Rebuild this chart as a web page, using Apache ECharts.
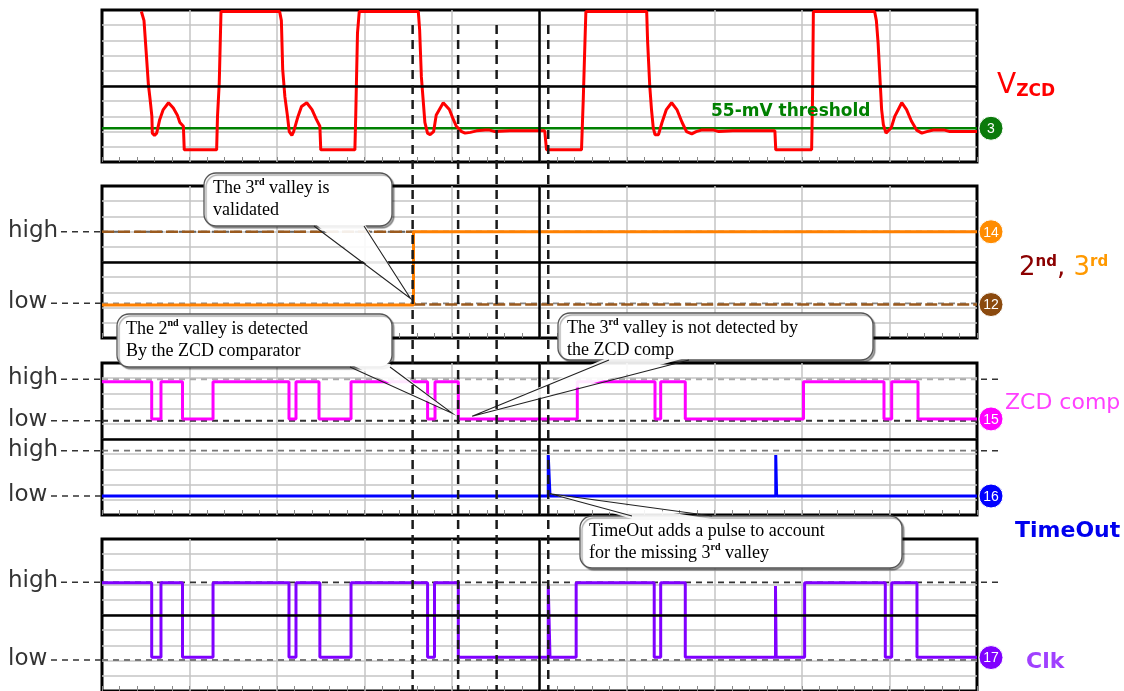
<!DOCTYPE html>
<html><head><meta charset="utf-8">
<script src="https://cdn.jsdelivr.net/npm/echarts@6.0.0/dist/echarts.min.js"></script>
<style>html,body{margin:0;padding:0;background:#fff}#c{width:1124px;height:691px}</style>
</head><body><div id="c"></div>
<script>
// ---------------- data (time in 1/10 division units, level in divisions) ----------------
const vzcdT = [4.5,4.8,5.1,5.3,5.5,5.7,5.75,6.0,6.25,6.6,7.0,7.6,8.15,8.6,8.9,9.3,9.4,13.1,13.2,13.4,13.6,
  20.3,20.5,20.65,20.9,21.2,21.4,21.7,21.9,22.4,22.8,23.4,24.0,24.5,24.9,25.0,28.9,29.0,29.2,29.4,
  36.15,36.3,36.5,36.7,36.9,37.2,37.5,37.9,38.2,39.0,39.7,40.15,40.5,41.1,41.5,42.1,42.8,43.8,44.3,44.9,46.6,50.6,50.8,
  54.8,55.0,55.2,55.3,62.25,62.35,62.6,62.8,63.0,63.2,63.6,64.0,64.5,65.1,65.7,66.3,66.8,67.4,67.9,68.5,69.9,70.5,72.1,74.8,76.9,77.0,
  81.1,81.2,81.3,88.3,88.5,88.7,88.9,89.1,89.3,89.6,89.8,90.2,90.6,91.4,91.95,92.5,93.1,93.7,94.25,95.0,96.3,96.9,100];
const vzcdV = [9.9,9.3,6.8,5.1,4.1,3.0,1.9,1.75,1.9,2.8,3.45,3.9,3.55,3.1,2.6,2.35,0.8,0.8,3.0,5.2,9.9,
  9.9,9.3,6.1,4.3,3.0,2.0,1.75,2.0,3.0,3.65,3.9,3.45,2.8,2.35,0.8,0.8,3.1,8.5,9.9,
  9.9,8.7,5.6,4.1,2.6,1.9,1.8,2.0,3.1,3.9,3.45,2.8,2.35,2.0,1.9,1.95,2.05,2.1,2.1,2.0,2.05,2.05,0.8,
  0.8,4.1,8.0,9.9,9.9,8.0,5.0,3.45,2.25,1.8,1.8,2.6,3.45,3.9,3.45,2.6,2.0,1.85,2.0,2.1,2.1,2.0,2.05,2.05,2.05,0.8,
  0.8,4.1,9.9,9.9,9.3,7.8,5.6,3.45,2.45,1.9,1.8,2.25,3.0,3.9,3.45,2.7,2.1,1.9,2.0,2.1,2.1,2.0,2.0];
const thresholdT = [0, 100];
const thresholdV = [2.22, 2.22];

const valleyT = [0, 35.6, 100];
const secondV = [6.99, 2.2, 2.2];
const thirdV  = [2.17, 6.99, 6.99];

const zcdT = [0,5.68,6.74,9.2,12.69,21.37,22.17,24.8,28.46,37.21,38.06,40.72,54.32,63.2,63.85,66.66,80.17,89.37,90.25,93.26,100];
const zcdV = [8.77,6.32,8.77,6.32,8.77,6.32,8.77,6.32,8.77,6.32,8.77,6.32,8.77,6.32,8.77,6.32,8.77,6.32,8.77,6.32,6.32];

const timeoutT = [0,51.0,51.2,77.0,77.1,100];
const timeoutV = [1.25,3.95,1.25,3.95,1.25,1.25];

const clkT = [0,5.68,6.74,9.2,12.69,21.37,22.17,24.9,28.46,37.21,38.0,40.72,51.0,51.2,54.19,63.11,63.85,66.66,76.97,77.05,80.3,89.52,90.25,93.14,100];
const clkV = [7.12,2.22,7.12,2.22,7.12,2.22,7.12,2.22,7.12,2.22,7.12,2.22,6.9,2.22,7.12,2.22,7.12,2.22,6.9,2.22,7.12,2.22,7.12,2.22,2.22];

const cursorT = [35.5, 40.7, 45.1, 51.0];

// reference levels: [grid, level, label]
const refGrid  = [1, 1, 2, 2, 2, 2, 3, 3];
const refLevel = [6.99, 2.28, 8.93, 6.2, 4.23, 1.25, 7.15, 2.04];
const refLabel = ['high','low','high','low','high','low','high','low'];

// channel markers
const chanGrid  = [0, 1, 1, 2, 2, 3];
const chanLevel = [2.22, 6.99, 2.2, 6.32, 1.25, 2.2];
const chanNum   = ['3','14','12','15','16','17'];

// ---------------- chart ----------------
const pairs = (t, v) => t.map((x, i) => [x, v[i]]);
const chart = echarts.init(document.getElementById('c'));
const gridTops = [10, 186, 363, 539];
const grids = gridTops.map(t => ({left:102, right:147, top:t, height:152, show:true,
  borderColor:'#000', borderWidth:3, backgroundColor:'transparent'}));
const xAxes = grids.map((g, i) => ({type:'value', gridIndex:i, min:0, max:100, interval:10,
  axisLine:{show:false}, axisLabel:{show:false},
  axisTick:{show:true, inside:true, length:5, lineStyle:{color:'#888', width:1}},
  minorTick:{show:true, splitNumber:5, length:5, lineStyle:{color:'#888', width:1}},
  splitLine:{show:true, showMinLine:false, showMaxLine:false, lineStyle:{color:'#c4c4c4', width:1.5}}}));
const yAxes = grids.map((g, i) => ({type:'value', gridIndex:i, min:0, max:10, interval:1,
  axisLine:{show:false}, axisLabel:{show:false}, axisTick:{show:false},
  splitLine:{show:true, showMinLine:false, showMaxLine:false, lineStyle:{color:'#c4c4c4', width:1.5}}}));
const centre = {silent:true, symbol:'none', label:{show:false}, animation:false,
  lineStyle:{color:'#000', type:'solid', width:2.5}, data:[{xAxis:50},{yAxis:5}]};
const base = {type:'line', symbol:'none', silent:true, animation:false};

const option = {
  animation:false,
  grid: grids, xAxis: xAxes, yAxis: yAxes,
  series: [
    Object.assign({}, base, {xAxisIndex:0, yAxisIndex:0, data:pairs(thresholdT, thresholdV),
      lineStyle:{color:'#008000', width:2.5}, markLine:centre}),
    Object.assign({}, base, {xAxisIndex:0, yAxisIndex:0, data:pairs(vzcdT, vzcdV),
      lineStyle:{color:'#ff0000', width:3}}),
    Object.assign({}, base, {xAxisIndex:1, yAxisIndex:1, step:'end', data:pairs(valleyT, secondV),
      lineStyle:{color:'#9a5a1e', width:2.5, type:[12,4]}, markLine:centre}),
    Object.assign({}, base, {xAxisIndex:1, yAxisIndex:1, step:'end', data:pairs(valleyT, thirdV),
      lineStyle:{color:'#ff8000', width:3}}),
    Object.assign({}, base, {xAxisIndex:2, yAxisIndex:2, step:'end', data:pairs(timeoutT, timeoutV),
      lineStyle:{color:'#0000ff', width:3}, markLine:centre}),
    Object.assign({}, base, {xAxisIndex:2, yAxisIndex:2, step:'end', data:pairs(zcdT, zcdV),
      lineStyle:{color:'#ff00ff', width:3}}),
    Object.assign({}, base, {xAxisIndex:3, yAxisIndex:3, step:'end', data:pairs(clkT, clkV),
      lineStyle:{color:'#8000ff', width:3}, markLine:centre})
  ]
};
chart.setOption(option);

// ---------------- annotations ----------------
const P = (g, x, y) => chart.convertToPixel({gridIndex:g}, [x, y]);
const G = [];
const leftX = P(0, 0, 0)[0], rightX = P(0, 100, 0)[0];
const sans = 'DejaVu Sans', serif = 'Liberation Serif';
const refInner = ['#666','#888','#aaa','#333','#777','#555','#333','#777'];
const refExt = [false,false,true,false,true,false,true,false];

refLevel.forEach((lv, i) => {
  const y = P(refGrid[i], 0, lv)[1];
  const startX = refLabel[i] === 'high' ? 61 : 51;
  G.push({type:'text', x:8, y:y-1, z:5, style:{text:refLabel[i], font:'23px "' + sans + '"', fill:'#333', verticalAlign:'middle'}});
  G.push({type:'line', z:1, shape:{x1:startX, y1:y, x2:leftX, y2:y}, style:{stroke:'#333', lineWidth:1.5, lineDash:[6,5]}});
  G.push({type:'line', z:1, shape:{x1:leftX, y1:y, x2:rightX, y2:y}, style:{stroke:refInner[i], lineWidth:1.8, lineDash:[6,5]}});
  if (refExt[i]) G.push({type:'line', z:1, shape:{x1:rightX + 4, y1:y, x2:rightX + 26, y2:y}, style:{stroke:'#333', lineWidth:1.5, lineDash:[6,5]}});
});

// cursor lines across all panels
cursorT.forEach(t => {
  const x = P(0, t, 0)[0];
  G.push({type:'line', z:110, shape:{x1:x, y1:25, x2:x, y2:690}, style:{stroke:'#1a1a1a', lineWidth:2.5, lineDash:[9,6]}});
});

// channel markers
const chanFill = ['#0b7a0b','#ff8c00','#8b4a0e','#ff00ff','#0000ff','#8000ff'];
chanLevel.forEach((lv, i) => {
  const y = P(chanGrid[i], 0, lv)[1];
  G.push({type:'circle', z:20, shape:{cx:991, cy:y, r:12}, style:{fill:chanFill[i], stroke:'#fff', lineWidth:1}});
  G.push({type:'text', z:21, x:991, y:y + 1, style:{text:chanNum[i], font:'14px "Liberation Sans"', fill:'#fff', align:'center', verticalAlign:'middle'}});
});

// right-hand channel names
G.push({type:'text', z:20, x:997, y:100, style:{text:'{v|V}{s|ZCD}', verticalAlign:'bottom',
  rich:{v:{font:'28px "' + sans + '"', fill:'#ff0000'}, s:{font:'bold 17px "' + sans + '"', fill:'#ff0000', verticalAlign:'bottom'}}}});
G.push({type:'text', z:20, x:1019, y:268, style:{text:'{a|2}{as|nd}{a|, }{b|3}{bs|rd}', verticalAlign:'middle',
  rich:{a:{font:'26px "' + sans + '"', fill:'#8b0000'}, as:{font:'bold 15px "' + sans + '"', fill:'#8b0000', verticalAlign:'top'},
        b:{font:'26px "' + sans + '"', fill:'#ff9900'}, bs:{font:'bold 15px "' + sans + '"', fill:'#ff9900', verticalAlign:'top'}}}});
G.push({type:'text', z:20, x:1005, y:403, style:{text:'ZCD comp', font:'22px "' + sans + '"', fill:'#ff40ff', verticalAlign:'middle'}});
G.push({type:'text', z:20, x:1015, y:531, style:{text:'TimeOut', font:'bold 22px "' + sans + '"', fill:'#0000ee', verticalAlign:'middle'}});
G.push({type:'text', z:20, x:1026, y:662, style:{text:'Clk', font:'bold 22px "' + sans + '"', fill:'#a040ff', verticalAlign:'middle'}});
G.push({type:'text', z:20, x:711, y:112, style:{text:'55-mV threshold', font:'bold 17px "' + sans + '"', fill:'#008000', verticalAlign:'middle'}});

// callouts
function callout(x, y, w, h, text, b1, b2, tip) {
  G.push({type:'rect', z:100, shape:{x:x, y:y, width:w, height:h, r:12},
    style:{fill:'#fff', stroke:'#555', lineWidth:1.3, shadowColor:'rgba(0,0,0,0.35)', shadowOffsetX:2, shadowOffsetY:2, shadowBlur:1}});
  const inward = b1[1] > tip[1] ? 3 : -3;
  G.push({type:'polygon', z:101, shape:{points:[[b1[0], b1[1] + inward], [b2[0], b2[1] + inward], tip]}, style:{fill:'rgba(255,255,255,0.9)'}});
  G.push({type:'polyline', z:102, shape:{points:[b1, tip, b2]}, style:{stroke:'#222', lineWidth:1.1, fill:null}});
  G.push({type:'text', z:103, x:x + 9, y:y + 4, style:{text:text, verticalAlign:'top',
    rich:{t:{font:'18px "' + serif + '"', fill:'#000', lineHeight:22}, s:{font:'bold 10px "' + serif + '"', fill:'#000', verticalAlign:'top'}}}});
}
const orangeUp = P(1, valleyT[1], 2.6);
callout(204, 173, 188, 53, '{t|The 3}{s|rd}{t| valley is}\n{t|validated}', [314, 226], [364, 226], [orangeUp[0] - 3, orangeUp[1]]);
const zcdFall = P(2, 40.0, 6.7);
callout(117, 314, 275, 53, '{t|The 2}{s|nd}{t| valley is detected}\n{t|By the ZCD comparator}', [350, 367], [390, 367], zcdFall);
const zcdLow = P(2, 42.3, 6.5);
callout(558, 313, 315, 47, '{t|The 3}{s|rd}{t| valley is not detected by}\n{t|the ZCD comp}', [609, 360], [689, 360], zcdLow);
const toPulse = P(2, 51.2, 1.4);
callout(580, 516, 322, 52, '{t|TimeOut adds a pulse to account}\n{t|for the missing 3}{s|rd}{t| valley}', [632, 516], [712, 516], toPulse);

chart.setOption({graphic: G});
</script></body></html>
